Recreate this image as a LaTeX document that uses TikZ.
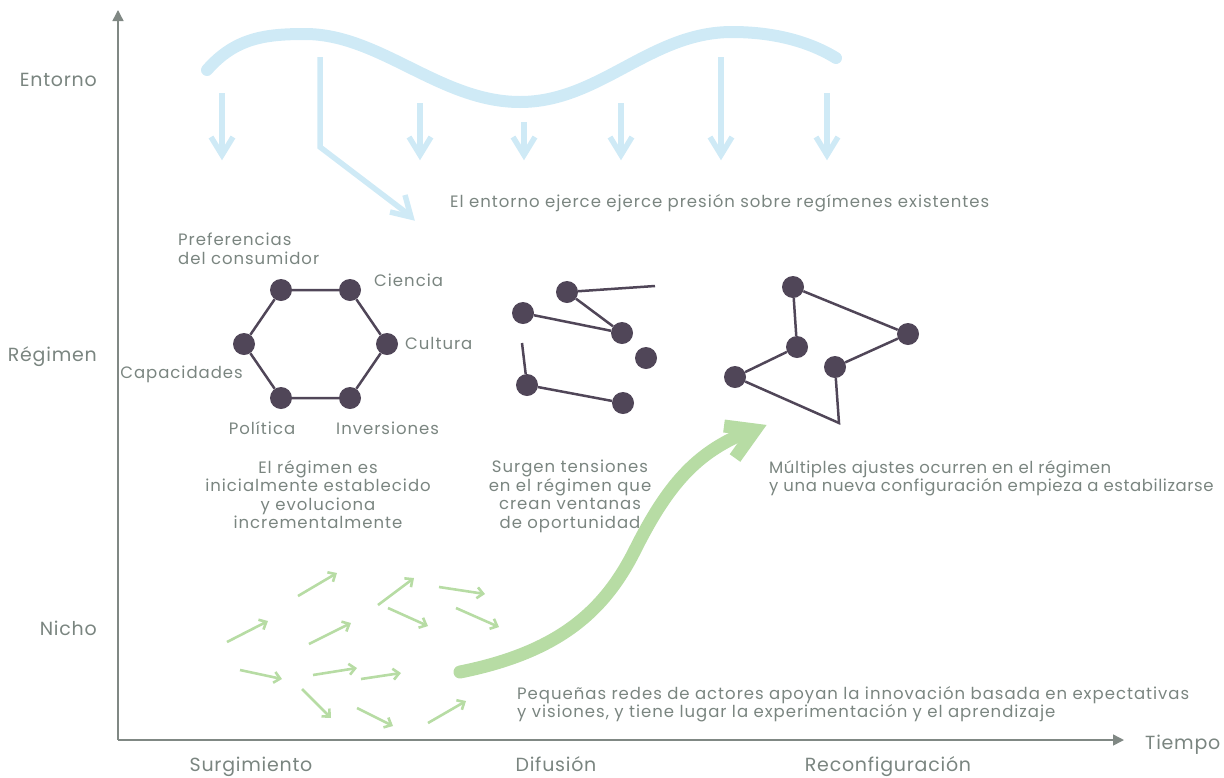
\documentclass[tikz,border=0pt]{standalone}
\usepackage{fontspec}
\setmainfont{Poppins}[LetterSpace=6]
\newfontfamily\axisfont{Poppins}[LetterSpace=4]
\newfontfamily\tightfont{Poppins}[LetterSpace=3.5]
\usetikzlibrary{arrows.meta}
\definecolor{txt}{RGB}{122,133,128}
\definecolor{axisc}{RGB}{128,136,132}
\definecolor{dot}{RGB}{80,70,88}
\definecolor{envblue}{RGB}{207,234,246}
\definecolor{nichegreen}{RGB}{183,220,164}
\begin{document}
\begin{tikzpicture}[x=1pt,y=-1pt,
  every node/.style={font=\fontsize{16.5}{18.5}\selectfont, text=txt, inner sep=0pt},
  axislabel/.style={font=\axisfont\fontsize{19}{22}\selectfont},
  dotnode/.style={circle, fill=dot, minimum size=22pt, inner sep=0pt},
  link/.style={draw=dot, line width=2.5pt, line join=miter},
  axisline/.style={draw=axisc, line width=1.5pt, -{Triangle[length=11pt,width=11pt]}},
  wave/.style={draw=envblue, line width=12pt, line cap=round},
  envshaft/.style={draw=envblue, line width=5.5pt},
  envhead/.style={draw=envblue, line width=5.5pt, line join=miter},
  bigarrow/.style={draw=nichegreen, line width=13pt},
  bighead/.style={draw=nichegreen, line width=13pt, line join=miter},
  smallarrow/.style={draw=nichegreen, line width=2.6pt, -{Straight Barb[length=6pt,width=11pt]}}
]
\useasboundingbox (0,0) rectangle (1224,777);

% axes
\coordinate (O) at (118,740);
\coordinate (ytop) at (118,10);
\coordinate (xend) at (1124,740);
\draw[axisline] (O) -- (ytop);
\draw[axisline] (O) -- (xend);

\node[axislabel, anchor=base east] (lEnt) at (97,86) {Entorno};
\node[axislabel, anchor=base east] (lReg) at (97,361) {Régimen};
\node[axislabel, anchor=base east] (lNic) at (97,635) {Nicho};
\node[axislabel, anchor=base west] (lTie) at (1145,749) {Tiempo};
\node[axislabel, anchor=base] (lSur) at (251,771) {Surgimiento};
\node[axislabel, anchor=base] (lDif) at (556,771) {Difusión};
\node[axislabel, anchor=base] (lRec) at (888,771) {Reconfiguración};

% environment wave
\draw[wave] (207,70) .. controls (235,38) and (265,34) .. (305,34)
  .. controls (380,34) and (440,102) .. (520,102)
  .. controls (600,102) and (650,32) .. (732,32)
  .. controls (775,32) and (810,42) .. (836,58);

\foreach \x/\t in {222/93, 420/103, 524/122, 621/103, 721/57, 827/93} {
  \draw[envshaft] (\x,\t) -- (\x,153);
  \draw[envhead] (\x-11,137) -- (\x,155) -- (\x+11,137);
}
\draw[envshaft, line join=miter] (320,57) -- (320,147) -- (408,214);
\draw[envhead] (405,195) -- (411,217) -- (390,212);

\node[anchor=base west] (tEnv) at (450,207) {El entorno ejerce ejerce presión sobre regímenes existentes};

% regime hexagon
\node[dotnode] (h1) at (281,290) {};
\node[dotnode] (h2) at (350,290) {};
\node[dotnode] (h3) at (387,344) {};
\node[dotnode] (h4) at (350,398) {};
\node[dotnode] (h5) at (281,398) {};
\node[dotnode] (h6) at (244,344) {};
\draw[link] (h1) -- (h2) -- (h3) -- (h4) -- (h5) -- (h6) -- (h1);

\node[anchor=north west, align=left] (lPref) at (178,233) {Preferencias\\del consumidor};
\node[anchor=base west] (lCie) at (374,286) {Ciencia};
\node[anchor=base west] (lCul) at (405,349) {Cultura};
\node[anchor=base east] (lCap) at (243,378) {Capacidades};
\node[anchor=base] (lPol) at (262,434) {Política};
\node[anchor=base west] (lInv) at (336,434) {Inversiones};

\node[anchor=north, align=center] (t1) at (318,460) {El régimen es\\inicialmente establecido\\y evoluciona\\incrementalmente};

% tensions network
\node[dotnode] (m1) at (567,292) {};
\node[dotnode] (m2) at (523,313) {};
\node[dotnode] (m3) at (622,333) {};
\node[dotnode] (m4) at (646,358) {};
\node[dotnode] (m5) at (527,385) {};
\node[dotnode] (m6) at (623,403) {};
\coordinate (mf1) at (655,286);
\coordinate (mf2) at (522,343);
\draw[link] (m1) -- (mf1);
\draw[link] (m1) -- (m3);
\draw[link] (m2) -- (m3);
\draw[link] (mf2) -- (m5);
\draw[link] (m5) -- (m6);

\node[anchor=north, align=center] (t2) at (570,460) {Surgen tensiones\\en el régimen que\\crean ventanas\\de oportunidad};

% reconfigured network
\node[dotnode] (r1) at (793,287) {};
\node[dotnode] (r2) at (908,334) {};
\node[dotnode] (r3) at (797,347) {};
\node[dotnode] (r4) at (835,367) {};
\node[dotnode] (r5) at (735,377) {};
\coordinate (rc) at (839,423);
\draw[link] (r1) -- (r2);
\draw[link] (r1) -- (r3);
\draw[link] (r3) -- (r5);
\draw[link] (r2) -- (r4);
\draw[link] (r5) -- (rc) -- (r4);

\node[anchor=north west, align=left, font=\tightfont\fontsize{16.5}{18.5}\selectfont] (t3) at (769,460) {Múltiples ajustes ocurren en el régimen\\y una nueva configuración empieza a estabilizarse};

% niche arrows
\foreach \a/\b/\c/\d in {298/596/337/573, 227/642/268/621, 309/644/351/623, 378/605/414/578,
  388/608/428/626, 439/587/485/594, 456/608/499/627, 240/670/282/679, 313/675/357/668,
  361/679/401/673, 302/689/331/718, 357/708/393/726, 428/723/466/701} {
  \draw[smallarrow] (\a,\b) -- (\c,\d);
}

% big green arrow
\draw[bigarrow, line cap=round] (460,672) .. controls (560,652) and (605,610) .. (635,550)
  .. controls (670,480) and (700,450) .. (752,430);
\draw[bighead] (724,426) -- (755,430) -- (735,458);

\node[anchor=north west, align=left] (t4) at (517,686) {Pequeñas redes de actores apoyan la innovación basada en expectativas\\y visiones, y tiene lugar la experimentación y el aprendizaje};
\end{tikzpicture}
\end{document}
